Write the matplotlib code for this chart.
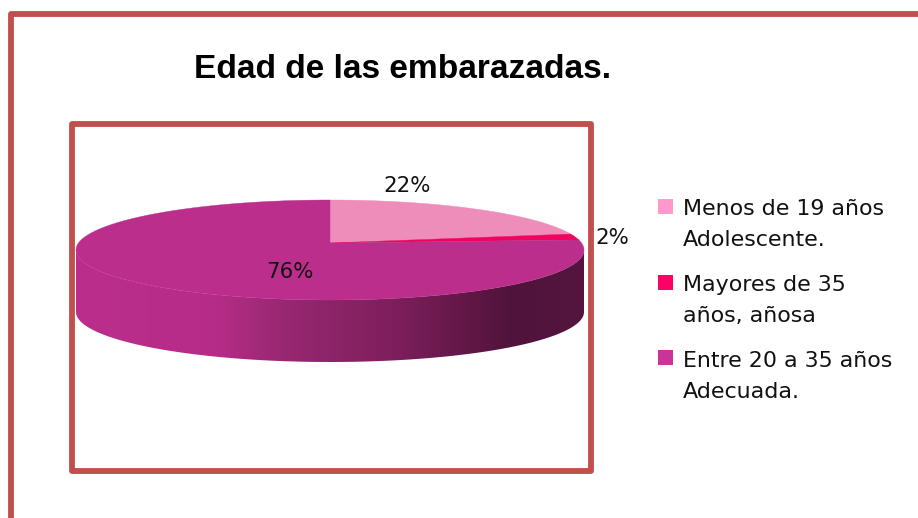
import numpy as np
import matplotlib
matplotlib.use("Agg")
import matplotlib.pyplot as plt
from matplotlib.patches import Polygon, Rectangle
from matplotlib.colors import LinearSegmentedColormap

title = "Edad de las embarazadas."
values = [22, 2, 76]
pct_labels = ["22%", "2%", "76%"]
legend_labels = ["Menos de 19 años\nAdolescente.", "Mayores de 35\naños, añosa", "Entre 20 a 35 años\nAdecuada."]
top_colors = ["#EE8CBA", "#F0045E", "#BC2E8C"]
legend_colors = ["#FF99CC", "#FF0066", "#CC3399"]
FRAME = "#C0504D"

fig = plt.figure(figsize=(9.18, 5.18), dpi=100, facecolor="white")
ax = fig.add_axes([0, 0, 1, 1])
ax.set_xlim(0, 918)
ax.set_ylim(518, 0)
ax.axis("off")

# frames
ax.plot([10.5, 10.5, 930], [530, 13.5, 13.5], color=FRAME, lw=4.2, solid_joinstyle="round")
ax.add_patch(Rectangle((71.5, 123.5), 519, 347, fill=False, ec=FRAME, lw=4.2, joinstyle="round"))

# pie geometry
cx, cy, rx, ry, depth = 330, 250, 254, 50, 62
d = 0.14  # perspective shift of the pie centre towards the far rim
apex = (cx, cy - d * ry)

# side wall with horizontal gradient
t = np.linspace(np.pi, 2 * np.pi, 200)
xs = cx + rx * np.cos(t)
ys = cy - ry * np.sin(t)
wall = np.vstack([np.column_stack([xs, ys + depth]), np.column_stack([xs[::-1], ys[::-1]])])
cmap = LinearSegmentedColormap.from_list("wall", [
    (0.00, "#BC2E8C"), (0.28, "#B52C88"), (0.40, "#9A2873"), (0.62, "#7F1F5C"),
    (0.86, "#50133C"), (1.00, "#54163F")])
im = ax.imshow(np.linspace(0, 1, 256)[None, :], extent=(cx - rx, cx + rx, 518, 0), cmap=cmap,
               aspect="auto", zorder=2)
im.set_clip_path(Polygon(wall, closed=True, transform=ax.transData))
ax.set_xlim(0, 918)
ax.set_ylim(518, 0)

# top wedges, clockwise from 12 o'clock, on a perspective-projected disc
start = 90.0
total = sum(values)
for v, c in zip(values, top_colors):
    sweep = 360.0 * v / total
    a = np.radians(np.linspace(start, start - sweep, 300))
    den = 1 + d * np.sin(a)
    u = np.cos(a) * np.sqrt(1 - d ** 2) / den
    w = (np.sin(a) + d) / den
    pts = np.vstack([[apex], np.column_stack([cx + rx * u, cy - ry * w])])
    ax.add_patch(Polygon(pts, closed=True, fc=c, ec=c, lw=0.3, zorder=3))
    start -= sweep

# data labels
lab_font = dict(family="DejaVu Sans", fontsize=15.4, color="#111111", zorder=5, va="baseline", ha="center")
for s, (x, y) in zip(pct_labels, [(407, 192), (612, 244), (290, 278)]):
    ax.text(x, y, s, **lab_font)

# title
ax.text(402, 78, title, family="Liberation Sans", fontweight="bold", fontsize=24.1, ha="center",
        va="baseline", color="black")

# legend
for lab, c, sy, by in zip(legend_labels, legend_colors, [199, 275, 350], [215, 291, 367]):
    ax.add_patch(Rectangle((658, sy), 15, 15, fc=c, ec="none", zorder=4))
    l1, l2 = lab.split("\n")
    ax.text(683, by, l1, family="DejaVu Sans", fontsize=15.9, color="#111111", va="baseline")
    ax.text(683, by + 31, l2, family="DejaVu Sans", fontsize=15.9, color="#111111", va="baseline")

fig.savefig("out.png", dpi=100, facecolor="white")
